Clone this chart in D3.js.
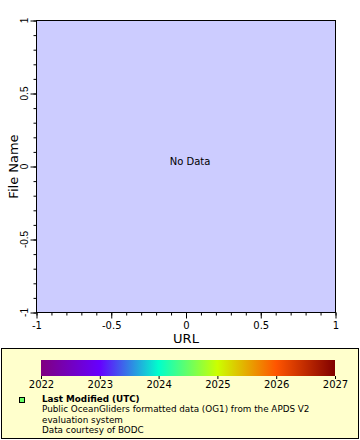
<!DOCTYPE html>
<html><head><meta charset="utf-8">
<script src="https://cdn.jsdelivr.net/npm/d3@7/dist/d3.min.js"></script>
<style>html,body{margin:0;padding:0;background:#fff;}svg{display:block;font-family:"DejaVu Sans",sans-serif;}</style>
</head><body><svg id="c" width="360" height="440"></svg>
<script>
const xDomain = [-1, 1];
const yDomain = [-1, 1];
const majorTicks = [-1, -0.5, 0, 0.5, 1];
const minorTicks = d3.range(-10, 11).map(i => i / 10);
const xLabel = "URL";
const yLabel = "File Name";
const noDataText = "No Data";
const colorYears = [2022, 2023, 2024, 2025, 2026, 2027];
const colorStops = ["#800080", "#6600ff", "#00ffcc", "#ccff00", "#ff5500", "#800000"];
const legendTitle = "Last Modified (UTC)";
const legendLines = ["Public OceanGliders formatted data (OG1) from the APDS V2", "evaluation system", "Data courtesy of BODC"];

const svg = d3.select("#c");
const m = {l: 36.5, r: 335.5, t: 20.5, b: 312.5};
const x = d3.scaleLinear().domain(xDomain).range([m.l, m.r]);
const y = d3.scaleLinear().domain(yDomain).range([m.b, m.t]);

svg.append("rect").attr("x", m.l).attr("y", m.t).attr("width", m.r - m.l).attr("height", m.b - m.t)
  .attr("fill", "#ccccff").attr("stroke", "#000").attr("stroke-width", 1);

const fmt = d => d === 0 ? "0" : String(d);
// x axis
const xa = svg.append("g").attr("transform", `translate(0,${m.b})`);
xa.call(d3.axisBottom(x).tickValues(minorTicks).tickSize(3).tickFormat(""));
xa.append("g").call(d3.axisBottom(x).tickValues(majorTicks).tickSize(6).tickPadding(3).tickFormat(fmt));
xa.selectAll(".domain").remove();
xa.selectAll("text").attr("font-size", 10).attr("font-family", "DejaVu Sans").attr("fill", "#000");
xa.selectAll("line").attr("stroke", "#000");

// y axis
const ya = svg.append("g").attr("transform", `translate(${m.l},0)`);
ya.call(d3.axisLeft(y).tickValues(minorTicks).tickSize(3).tickFormat(""));
ya.append("g").call(d3.axisLeft(y).tickValues(majorTicks).tickSize(6).tickFormat(""));
ya.selectAll(".domain").remove();
ya.selectAll("line").attr("stroke", "#000");
ya.selectAll(".ylab").data(majorTicks).enter().append("text")
  .attr("transform", d => `translate(-9,${y(d)}) rotate(-90)`)
  .attr("text-anchor", "middle").attr("font-size", 10).attr("fill", "#000").text(fmt);

svg.append("text").attr("x", (m.l + m.r) / 2).attr("y", 343).attr("text-anchor", "middle")
  .attr("font-size", 13).text(xLabel);
svg.append("text").attr("transform", `translate(18,${(m.t + m.b) / 2}) rotate(-90)`).attr("text-anchor", "middle")
  .attr("font-size", 13).text(yLabel);

svg.append("text").attr("x", x(0) + 4).attr("y", y(0) - 1.5).attr("text-anchor", "middle")
  .attr("font-size", 10).text(noDataText);

// legend
svg.append("rect").attr("x", 1.5).attr("y", 348.5).attr("width", 357).attr("height", 90)
  .attr("fill", "#ffffcc").attr("stroke", "#000").attr("stroke-width", 1);

const cx = d3.scaleLinear().domain([colorYears[0], colorYears[colorYears.length - 1]]).range([41, 335]);
const grad = svg.append("defs").append("linearGradient").attr("id", "g");
colorStops.forEach((c, i) => grad.append("stop").attr("offset", (i / (colorStops.length - 1))).attr("stop-color", c));
svg.append("rect").attr("x", cx.range()[0]).attr("y", 360).attr("width", cx.range()[1] - cx.range()[0]).attr("height", 16)
  .attr("fill", "url(#g)");
const ca = svg.append("g").attr("transform", "translate(0,376)")
  .call(d3.axisBottom(cx).tickValues(colorYears).tickSize(3).tickPadding(2).tickFormat(d3.format("d")));
ca.select(".domain").remove();
ca.selectAll("line").attr("stroke", "#000");
ca.selectAll("text").attr("font-size", 10).attr("font-family", "DejaVu Sans").attr("fill", "#000");

svg.append("rect").attr("x", 19.5).attr("y", 397.5).attr("width", 5).attr("height", 5)
  .attr("fill", "#66ff66").attr("stroke", "#000").attr("stroke-width", 1);
const lh = 10.3;
svg.append("text").attr("x", 42).attr("y", 402).attr("font-size", 8.8).attr("font-weight", "bold").text(legendTitle);
legendLines.forEach((t, i) => svg.append("text").attr("x", 42).attr("y", 402 + (i + 1) * lh).attr("font-size", 8.8).text(t));
</script></body></html>
